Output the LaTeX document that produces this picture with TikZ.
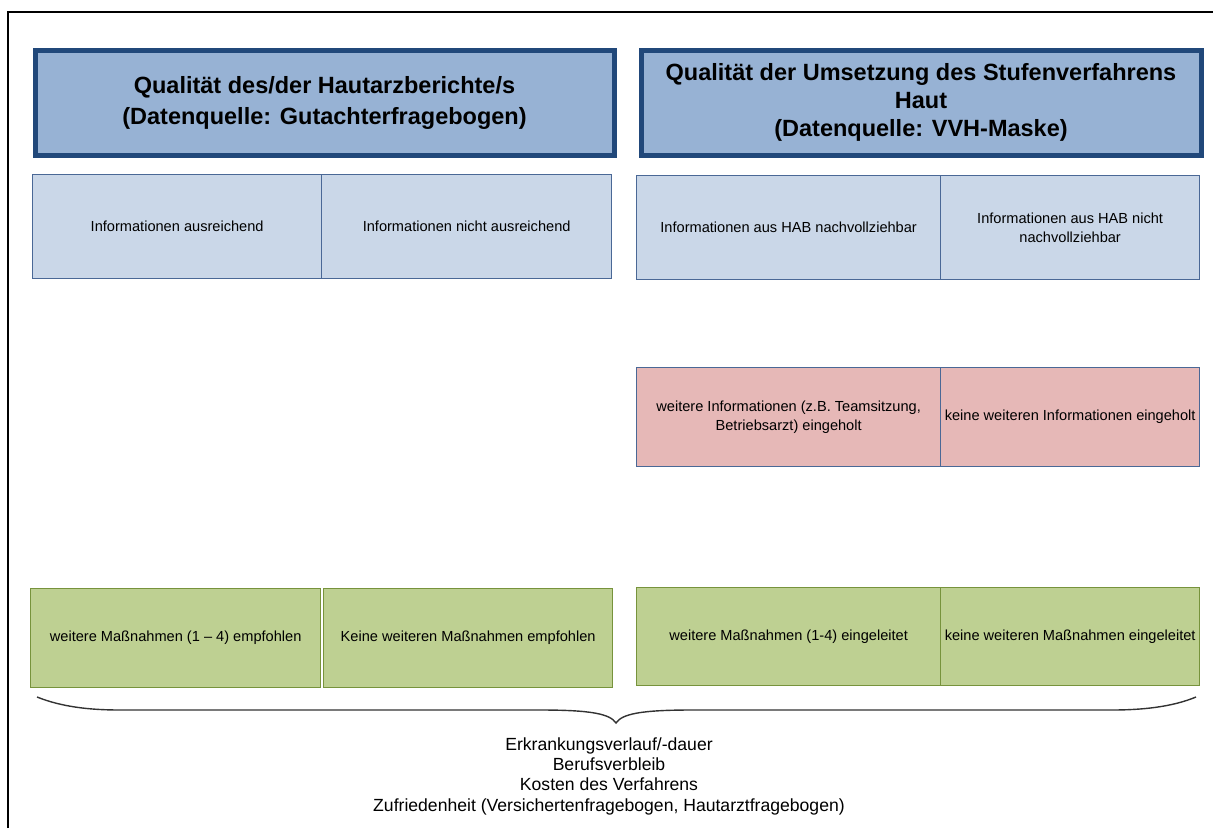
\documentclass[tikz,border=0pt]{standalone}
\usepackage{fontspec}
\setmainfont{Liberation Sans}
\definecolor{hdrline}{RGB}{33,72,122}
\definecolor{hdrfill}{RGB}{151,178,212}
\definecolor{bluefill}{RGB}{202,215,232}
\definecolor{blueline}{RGB}{74,104,150}
\definecolor{pinkfill}{RGB}{230,184,183}
\definecolor{greenfill}{RGB}{190,208,146}
\definecolor{greenline}{RGB}{119,147,60}
\begin{document}
\begin{tikzpicture}[x=1pt,y=-1pt,
  hdr/.style={draw=hdrline, fill=hdrfill, line width=5pt, inner sep=0pt, anchor=north west,
    align=center, font=\bfseries\fontsize{23.5}{28}\selectfont},
  cellbase/.style={line width=1.3pt, inner sep=0pt, anchor=north west, align=center,
    font=\fontsize{14.6}{19.5}\selectfont},
  bluecell/.style={cellbase, draw=blueline, fill=bluefill},
  pinkcell/.style={cellbase, draw=blueline, fill=pinkfill},
  greencell/.style={cellbase, draw=greenline, fill=greenfill},
  bracestyle/.style={line width=1.4pt, draw=black!80},
  frame/.style={line width=2.6pt, draw=black}
]
\useasboundingbox (0,0) rectangle (1213,828);
\draw[frame] (8,828) -- (8,12) -- (1213,12);

% headers
\node[hdr, minimum width=579pt, minimum height=105pt, font=\bfseries\fontsize{23.5}{31}\selectfont] (h1) at (32.5,47.5)
  {Qualität des/der Hautarzberichte/s\\(Datenquelle: Gutachterfragebogen)};
\node[hdr, minimum width=560pt, minimum height=105pt] (h2) at (638.5,47.5)
  {Qualität der Umsetzung des Stufenverfahrens\\Haut\\(Datenquelle: VVH-Maske)};

% row 1
\node[bluecell, minimum width=289pt, minimum height=104pt] (a1) at (32,174) {Informationen ausreichend};
\node[bluecell, minimum width=290pt, minimum height=104pt] (a2) at (321,174) {Informationen nicht ausreichend};
\node[bluecell, minimum width=304pt, minimum height=104pt] (b1) at (636,175) {Informationen aus HAB nachvollziehbar};
\node[bluecell, minimum width=259pt, minimum height=104pt] (b2) at (940,175) {Informationen aus HAB nicht\\nachvollziehbar};

% row 2
\node[pinkcell, minimum width=304pt, minimum height=99pt] (c1) at (636,367) {weitere Informationen (z.B. Teamsitzung,\\Betriebsarzt) eingeholt};
\node[pinkcell, minimum width=259pt, minimum height=99pt] (c2) at (940,367) {keine weiteren Informationen eingeholt};

% row 3
\node[greencell, minimum width=290pt, minimum height=99pt] (d1) at (30,588) {weitere Maßnahmen (1 – 4) empfohlen};
\node[greencell, minimum width=289pt, minimum height=99pt] (d2) at (323,588) {Keine weiteren Maßnahmen empfohlen};
\node[greencell, minimum width=304pt, minimum height=98pt] (e1) at (636,587) {weitere Maßnahmen (1-4) eingeleitet};
\node[greencell, minimum width=259pt, minimum height=98pt] (e2) at (940,587) {keine weiteren Maßnahmen eingeleitet};

% brace
\coordinate (bl) at (37,697);
\coordinate (bm) at (616,723);
\coordinate (br) at (1196,697);
\draw[bracestyle] (bl) .. controls (62,707) and (90,710) .. (120,710) -- (540,710)
  .. controls (592,710) and (610,714) .. (bm)
  .. controls (622,714) and (640,710) .. (692,710) -- (1112,710)
  .. controls (1142,710) and (1172,707) .. (br);

% outcome text
\node[align=center, font=\fontsize{17.6}{20.3}\selectfont, inner sep=0pt] (out) at (609,776)
  {Erkrankungsverlauf/-dauer\\Berufsverbleib\\Kosten des Verfahrens\\Zufriedenheit (Versichertenfragebogen, Hautarztfragebogen)};
\end{tikzpicture}
\end{document}
